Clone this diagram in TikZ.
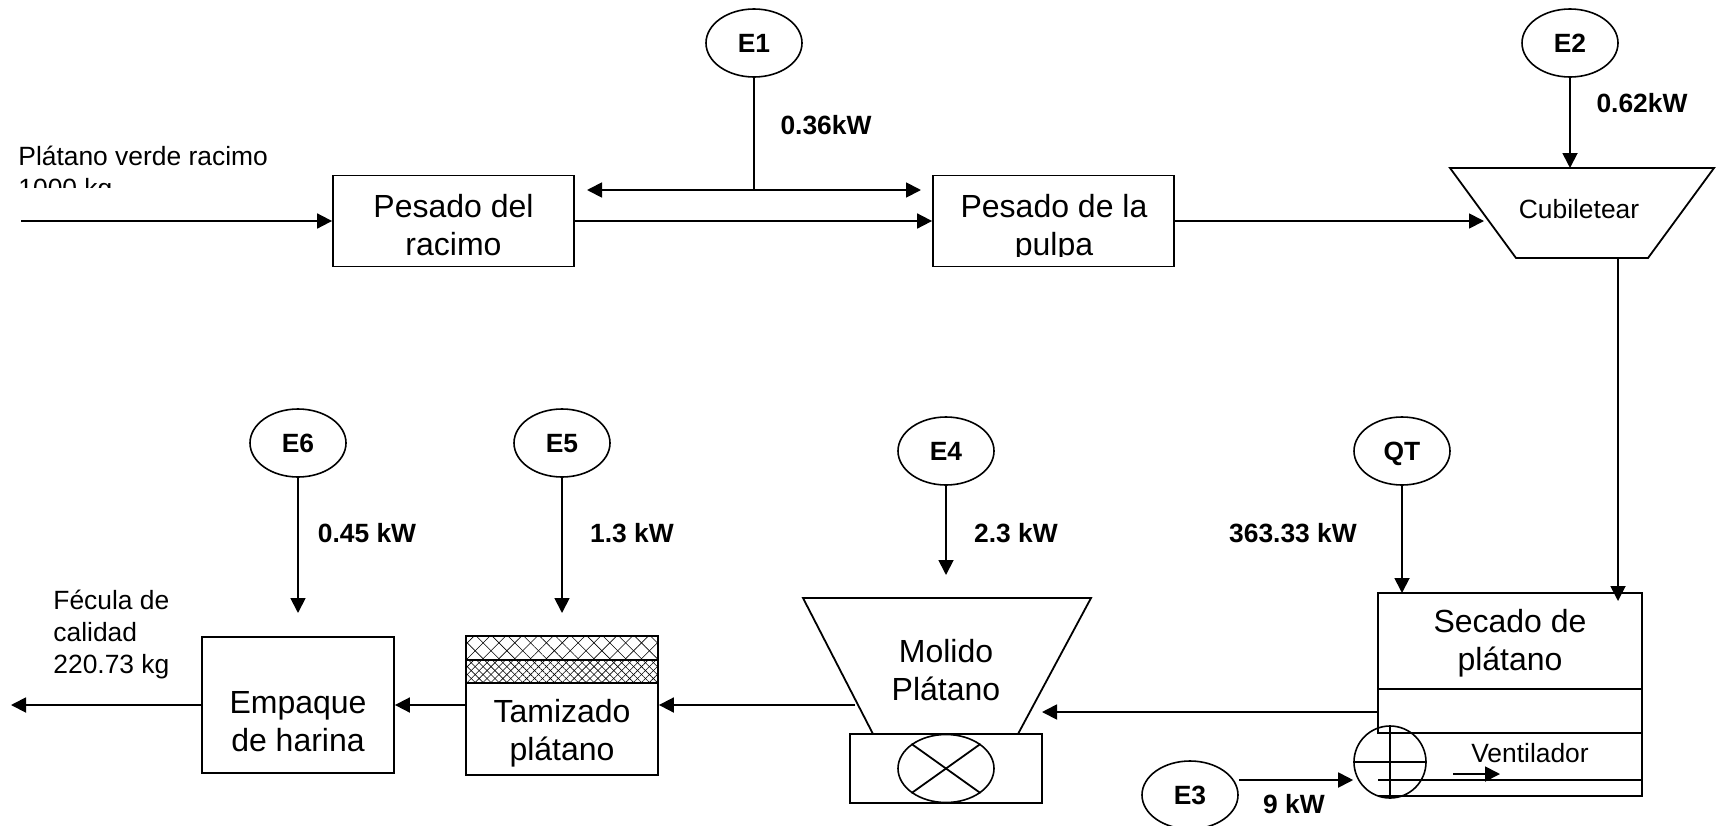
\documentclass[tikz,border=0pt]{standalone}
\usepackage{fontspec}
\setmainfont{Liberation Sans}
\usetikzlibrary{positioning, arrows.meta, patterns.meta, shapes.geometric}

\tikzset{
  linea/.style={line width=0.9pt},
  flecha/.style={linea, -{Triangle[length=7.5pt,width=7.5pt]}},
  flechados/.style={linea, {Triangle[length=7.5pt,width=7.5pt]}-{Triangle[length=7.5pt,width=7.5pt]}},
  caja/.style={draw, line width=0.9pt},
  etapa/.style={font=\fontsize{16}{19}\selectfont, align=center, inner sep=0pt},
  fuente/.style={draw, ellipse, line width=0.8pt, minimum width=48pt, minimum height=34pt, inner sep=0pt, text height=9.5pt, text depth=0pt, font=\fontsize{13.2}{16}\selectfont\bfseries},
  potencia/.style={font=\fontsize{13.2}{16}\selectfont\bfseries},
  rotulo/.style={font=\fontsize{13.2}{16}\selectfont, align=left}
}

\begin{document}
\begin{tikzpicture}[x=0.5pt, y=-0.5pt]
  \useasboundingbox (0,0) rectangle (1724,825);

  % Energy sources
  \node[fuente] (E1) at (754,43) {E1};
  \node[fuente] (E2) at (1570,43) {E2};
  \node[fuente] (E6) at (298,443) {E6};
  \node[fuente] (E5) at (562,443) {E5};
  \node[fuente] (E4) at (946,451) {E4};
  \node[fuente] (QT) at (1402,451) {QT};
  \node[fuente] (E3) at (1190,795) {E3};

  % Process boxes
  \node[caja, minimum width=120.5pt, minimum height=45.5pt] (racimo) at (453.5,221) {};
  \node[etapa] (racimotexto) at (453.5,225) {Pesado del\\racimo};
  \node[caja, minimum width=120.5pt, minimum height=45.5pt] (pulpa) at (1053.5,221) {};
  \begin{scope}
    \clip (933,176) rectangle (1174,256);
    \node[etapa] (pulpatexto) at (1054,228) {Pesado de la\\pulpa};
  \end{scope}
  \node[caja, minimum width=96pt, minimum height=68pt] (empaque) at (298,705) {};
  \node[etapa] (empaquetexto) at (298,722) {Empaque\\de harina};

  % Cubiletear
  \coordinate (cubA) at (1450,168);
  \coordinate (cubB) at (1714,168);
  \coordinate (cubC) at (1648,258);
  \coordinate (cubD) at (1516,258);
  \draw[linea] (cubA) -- (cubB) -- (cubC) -- (cubD) -- cycle;
  \node[rotulo] (cubiletear) at (1579,209) {Cubiletear};

  % Tamizado
  \node[caja, minimum width=96pt, minimum height=46pt] (tamizado) at (562,729) {};
  \node[etapa] (tamizadotexto) at (562,733) {Tamizado\\plátano};
  \path[pattern={Lines[angle=45,distance=5.6pt,line width=0.3pt]}] (466,636) rectangle (658,660);
  \path[pattern={Lines[angle=-45,distance=5.6pt,line width=0.3pt]}] (466,636) rectangle (658,660);
  \path[pattern={Lines[angle=45,distance=2.8pt,line width=0.3pt]}] (466,660) rectangle (658,683);
  \path[pattern={Lines[angle=-45,distance=2.8pt,line width=0.3pt]}] (466,660) rectangle (658,683);
  \draw[linea] (466,636) rectangle (658,683);
  \draw[linea] (466,660) -- (658,660);

  % Molido
  \coordinate (molA) at (803,598);
  \coordinate (molB) at (1091,598);
  \coordinate (molC) at (1018,734);
  \coordinate (molD) at (873,734);
  \draw[linea] (molD) -- (molA) -- (molB) -- (molC);
  \node[etapa] (molido) at (946,670) {Molido\\Plátano};
  \node[caja, minimum width=96pt, minimum height=34.5pt] (molino) at (946,768.5) {};
  \node[draw, ellipse, line width=0.8pt, minimum width=48pt, minimum height=34pt, inner sep=0pt] (rotor) at (946,768.5) {};
  \draw[linea] (rotor.north west) -- (rotor.south east);
  \draw[linea] (rotor.north east) -- (rotor.south west);

  % Secado
  \coordinate (secA) at (1378,593);
  \coordinate (secB) at (1642,593);
  \coordinate (secC) at (1642,796);
  \coordinate (secD) at (1378,796);
  \draw[linea] (1378,734) -- (secA) -- (secB) -- (secC) -- (secD);
  \draw[linea] (secA |- 0,689) -- (secB |- 0,689);
  \draw[linea] (secA |- 0,733) -- (secB |- 0,733);
  \draw[linea] (secA |- 0,780) -- (secB |- 0,780);
  \node[etapa] (secado) at (1510,643) {Secado de\\plátano};
  \node[rotulo] (ventilador) at (1530,753) {Ventilador};
  \node[draw, circle, line width=0.8pt, minimum size=36pt, inner sep=0pt] (fan) at (1390,762) {};
  \draw[linea] (fan.north) -- (fan.south);
  \draw[linea] (fan.west) -- (fan.east);
  \coordinate (ventA) at (1453,774);
  \coordinate (ventB) at (1500,774);
  \draw[flecha] (ventA) -- (ventB);

  % Flow
  \coordinate (entrada) at (21,221);
  \coordinate (salida) at (11,705);
  \coordinate (cubent) at (1484,221);
  \coordinate (e1pie) at (754,190);
  \coordinate (dobleA) at (587,190);
  \coordinate (dobleB) at (921,190);
  \coordinate (cubsal) at (1618,258);
  \coordinate (secent) at (1618,601);
  \coordinate (molent) at (1042,712);
  \coordinate (molsal) at (855,705);
  \coordinate (e4fin) at (946,575);
  \coordinate (e5fin) at (562,613);
  \coordinate (e6fin) at (298,613);
  \draw[flecha] (entrada) -- (racimo);
  \draw[flecha] (racimo) -- (pulpa);
  \draw[flecha] (pulpa.east) -- (cubent);
  \draw[linea] (E1) -- (e1pie);
  \draw[flechados] (dobleA) -- (dobleB);
  \draw[flecha] (E2) -- (E2 |- cubA);
  \draw[flecha] (cubsal) -- (secent);
  \draw[flecha] (QT) -- (QT |- secA);
  \draw[flecha] (E3.east |- 0,780) -- (fan.west |- 0,780);
  \draw[flecha] (secA |- molent) -- (molent);
  \draw[flecha] (molsal) -- (tamizado.east |- molsal);
  \draw[flecha] (E4) -- (e4fin);
  \draw[flecha] (E5) -- (e5fin);
  \draw[flecha] (E6) -- (e6fin);
  \draw[flecha] (tamizado.west |- empaque) -- (empaque);
  \draw[flecha] (empaque) -- (salida);

  % Labels
  \node[potencia] (p1) at (826,125) {0.36kW};
  \node[potencia] (p2) at (1642,103) {0.62kW};
  \node[potencia] (p3) at (1294,804) {9 kW};
  \node[potencia] (p4) at (1016,533) {2.3 kW};
  \node[potencia] (p5) at (632,533) {1.3 kW};
  \node[potencia] (p6) at (367,533) {0.45 kW};
  \node[potencia] (pq) at (1293,533) {363.33 kW};
  \node[rotulo, anchor=north west, inner sep=0pt] (fecula) at (53,590) {Fécula de\\calidad\\220.73 kg};
  \begin{scope}
    \clip (0,130) rectangle (300,187);
    \node[rotulo, anchor=north west, inner sep=0pt] (verde) at (18,146) {Plátano verde racimo\\1000 kg};
  \end{scope}
\end{tikzpicture}
\end{document}
